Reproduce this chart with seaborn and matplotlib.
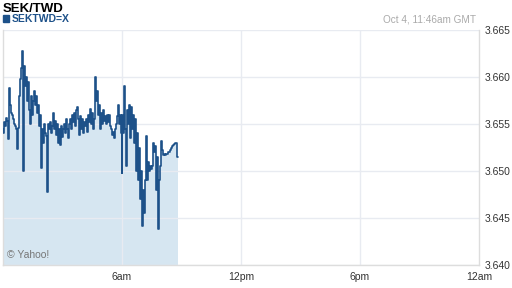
import matplotlib
matplotlib.use("Agg")
import matplotlib.pyplot as plt
import matplotlib.dates as mdates
import seaborn as sns
import pandas as pd
import numpy as np

# ---- data ----
title = "SEK/TWD"
symbol = "SEKTWD=X"
stamp = "Oct 4, 11:46am GMT"
start_time = "2013-10-04 00:00"
sample_minutes = 3
rate = [
    3.6545, 3.6540, 3.6552, 3.6548, 3.6556, 3.6553, 3.6534, 3.6588, 3.6570, 3.6562,
    3.6560, 3.6555, 3.6550, 3.6548, 3.6545, 3.6523, 3.6546, 3.6580, 3.6598, 3.6610,
    3.6628, 3.6500, 3.6612, 3.6590, 3.6600, 3.6575, 3.6595, 3.6565, 3.6550, 3.6580,
    3.6560, 3.6575, 3.6585, 3.6570, 3.6580, 3.6562, 3.6570, 3.6548, 3.6560, 3.6503,
    3.6545, 3.6530, 3.6550, 3.6540, 3.6537, 3.6478, 3.6550, 3.6545, 3.6552, 3.6540,
    3.6548, 3.6562, 3.6545, 3.6553, 3.6538, 3.6550, 3.6530, 3.6545, 3.6528, 3.6548,
    3.6536, 3.6545, 3.6550, 3.6540, 3.6555, 3.6545, 3.6535, 3.6550, 3.6555, 3.6545,
    3.6560, 3.6552, 3.6562, 3.6548, 3.6565, 3.6568, 3.6555, 3.6538, 3.6558, 3.6545,
    3.6555, 3.6540, 3.6552, 3.6548, 3.6555, 3.6542, 3.6560, 3.6552, 3.6566, 3.6550,
    3.6562, 3.6545, 3.6555, 3.6600, 3.6575, 3.6585, 3.6560, 3.6570, 3.6545, 3.6562,
    3.6550, 3.6565, 3.6553, 3.6558, 3.6550, 3.6560, 3.6552, 3.6560, 3.6548, 3.6545,
    3.6538, 3.6542, 3.6535, 3.6545, 3.6550, 3.6558, 3.6570, 3.6550, 3.6560, 3.6540,
    3.6498, 3.6560, 3.6540, 3.6590, 3.6545, 3.6505, 3.6565, 3.6550, 3.6570, 3.6535,
    3.6568, 3.6545, 3.6560, 3.6530, 3.6555, 3.6500, 3.6540, 3.6490, 3.6525, 3.6470,
    3.6500, 3.6441, 3.6480, 3.6455, 3.6490, 3.6537, 3.6490, 3.6510, 3.6500, 3.6505,
    3.6502, 3.6505, 3.6530, 3.6520, 3.6527, 3.6480, 3.6515, 3.6438, 3.6490, 3.6505,
    3.6532, 3.6522, 3.6517, 3.6518, 3.6517, 3.6518, 3.6518, 3.6520, 3.6520, 3.6522,
    3.6525, 3.6527, 3.6528, 3.6529, 3.6530, 3.6530, 3.6515,
]
y_ticks = [3.640, 3.645, 3.650, 3.655, 3.660, 3.665]
y_tick_labels = ["3.640", "3.645", "3.650", "3.655", "3.660", "3.665"]
x_tick_hours = [6, 12, 18, 24]
x_tick_labels = ["6am", "12pm", "6pm", "12am"]

times = pd.date_range(start_time, periods=len(rate), freq=f"{sample_minutes}min")
df = pd.DataFrame({"time": times, "rate": rate})

# ---- style ----
sns.set_style("white")
plt.rcParams["font.family"] = ["Liberation Sans", "DejaVu Sans"]

line_color = "#1d5189"
fill_color = "#d6e6f1"
grid_color = "#e8ebf1"
text_gray = "#333333"

fig = plt.figure(figsize=(5.12, 2.88), dpi=100)
ax = fig.add_axes([3 / 512, 23 / 288, 476 / 512, 235 / 288])

day0 = pd.Timestamp(start_time)
ax.fill_between(df["time"], df["rate"], y_ticks[0], color=fill_color, lw=0, zorder=1, step="mid")
sns.lineplot(data=df, x="time", y="rate", ax=ax, color=line_color, lw=1.2, zorder=3,
             drawstyle="steps-mid")

ax.set_xlim(mdates.date2num(day0), mdates.date2num(day0 + pd.Timedelta(hours=24)))
ax.set_ylim(y_ticks[0], y_ticks[-1])

# grid
for yv in y_ticks:
    ax.axhline(yv, color=grid_color, lw=1, zorder=2)
for h in x_tick_hours[:-1]:
    ax.axvline(mdates.date2num(day0 + pd.Timedelta(hours=h)), color=grid_color, lw=1, zorder=2)

major = [mdates.date2num(day0 + pd.Timedelta(hours=h)) for h in x_tick_hours]
minor = [mdates.date2num(day0 + pd.Timedelta(minutes=30 * k)) for k in range(1, 48)]
ax.set_xticks(major)
ax.set_xticklabels(x_tick_labels)
ax.set_xticks(minor, minor=True)
ax.tick_params(axis="x", which="both", direction="in", length=3, width=0.8,
               color="#cccccc", labelsize=7.5, labelcolor=text_gray, pad=5)
ax.yaxis.tick_right()
ax.set_yticks(y_ticks)
ax.set_yticklabels(y_tick_labels)
ax.tick_params(axis="y", which="both", length=0, labelsize=7.5, labelcolor=text_gray, pad=4)
ax.set_xlabel("")
ax.set_ylabel("")

ax.spines["top"].set_visible(False)
for side in ["left", "right", "bottom"]:
    ax.spines[side].set_color("#dddddd")
    ax.spines[side].set_linewidth(1)

# texts
fig.text(3 / 512, 1 - 9 / 288, title, fontsize=9.5, fontweight="bold", color="black",
         va="center", ha="left")
fig.patches.append(plt.Rectangle((3 / 512, 1 - 22 / 288), 6 / 512, 7 / 288,
                                 transform=fig.transFigure, color=line_color, figure=fig))
fig.text(12 / 512, 1 - 18.5 / 288, symbol, fontsize=7.5, fontweight="bold", color=line_color,
         va="center", ha="left")
fig.text(476 / 512, 1 - 20 / 288, stamp, fontsize=7.2, color="#aaaaaa", va="center", ha="right")
fig.text(7 / 512, 1 - 255 / 288, "© Yahoo!", fontsize=7.5, color="#777777", va="center", ha="left")

fig.savefig("out.png", dpi=100)
